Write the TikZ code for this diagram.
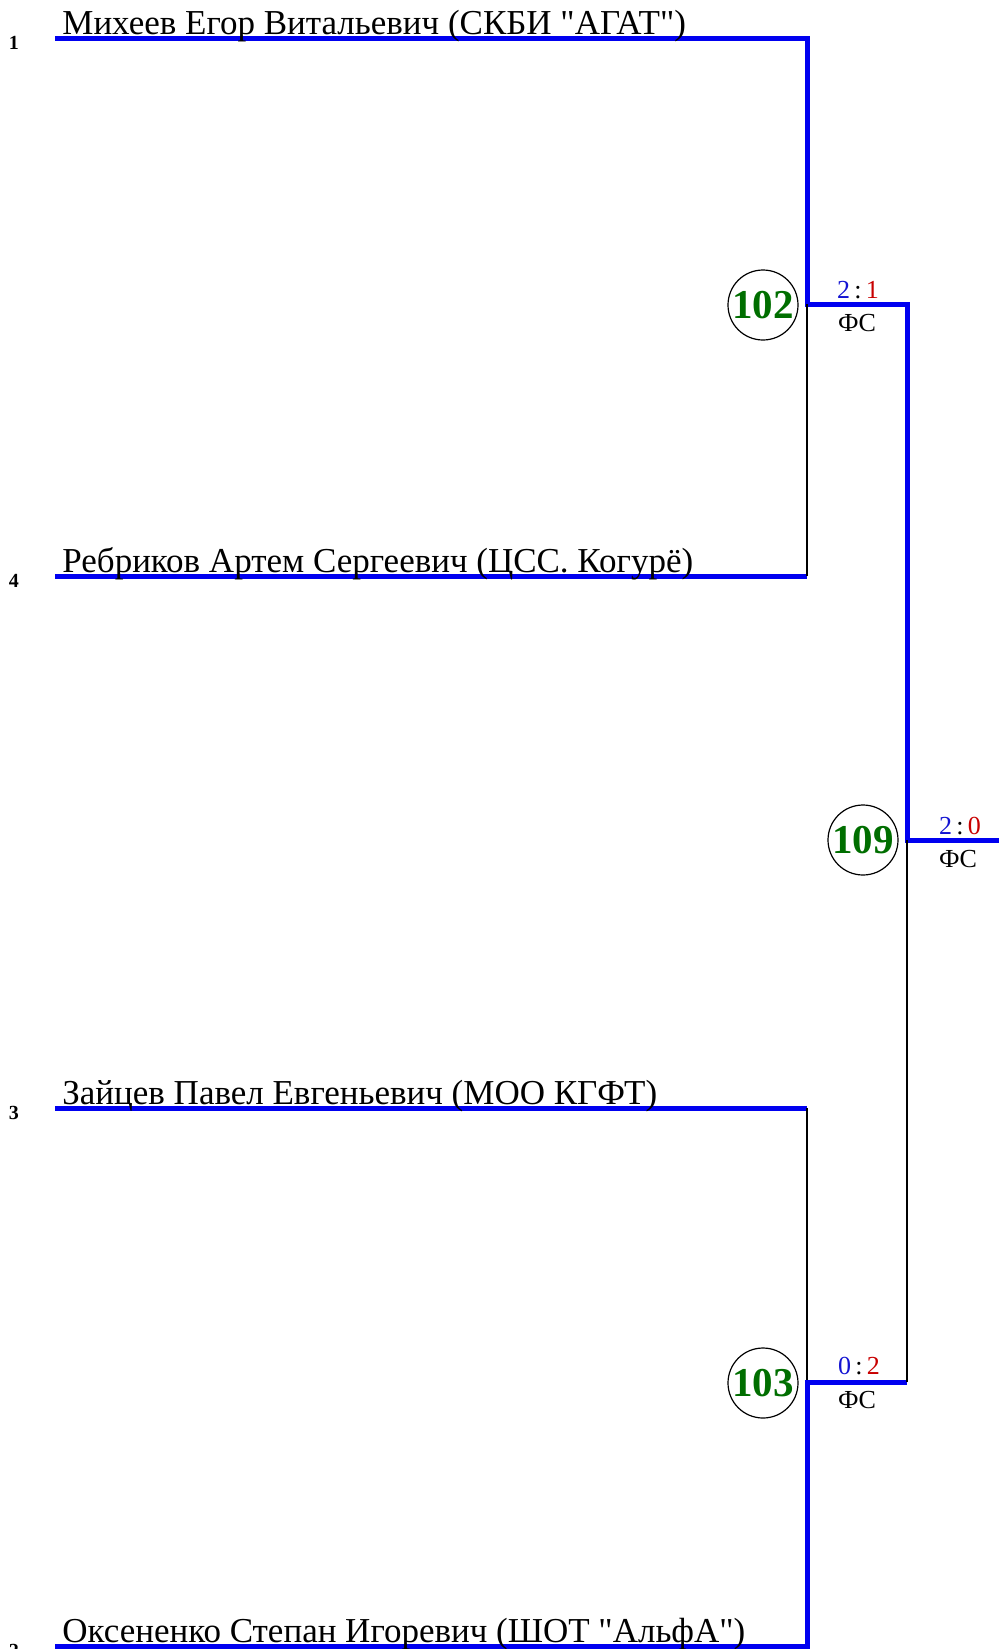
\documentclass[tikz,border=0pt]{standalone}
\usepackage{fontspec}
\setmainfont{Liberation Serif}
\definecolor{winblue}{RGB}{0,0,240}
\definecolor{bestgreen}{RGB}{0,110,0}
\definecolor{ptblue}{RGB}{20,20,210}
\definecolor{ptred}{RGB}{200,0,0}
\newcommand{\pts}[2]{\textcolor{ptblue}{#1}\,:\,\textcolor{ptred}{#2}}
\begin{document}
\begin{tikzpicture}[x=0.5pt,y=-0.5pt,
  win/.style={draw=winblue,line width=2.5pt},
  lose/.style={draw=black,line width=0.7pt},
  fighter/.style={anchor=base west,inner sep=0pt,font=\fontsize{17.5}{17.5}\selectfont},
  seed/.style={inner sep=0pt,font=\fontsize{10}{10}\selectfont\bfseries},
  bout/.style={circle,draw,line width=0.6pt,minimum size=35pt,inner sep=0pt,
    text=bestgreen,font=\fontsize{20.5}{20.5}\selectfont\bfseries},
  score/.style={inner sep=0pt,font=\fontsize{13}{13}\selectfont}]
\useasboundingbox (0,0) rectangle (999,1649);

% line ends
\coordinate (s1) at (55,38);   \coordinate (e1) at (807,38);
\coordinate (s4) at (55,576);  \coordinate (e4) at (807,576);
\coordinate (s3) at (55,1108); \coordinate (e3) at (807,1108);
\coordinate (s2) at (55,1646); \coordinate (e2) at (807,1646);
\coordinate (b102) at (807,304);  \coordinate (c102) at (907,304);
\coordinate (b103) at (807,1382); \coordinate (c103) at (907,1382);
\coordinate (b109) at (907,840);  \coordinate (c109) at (999,840);

% bracket
\draw[win] (s1) -- (e1) -- (b102) -- (c102) -- (b109) -- (c109);
\draw[win] (s4) -- (e4);  \draw[lose] (e4) -- (b102);
\draw[win] (s3) -- (e3);  \draw[lose] (e3) -- (b103);
\draw[win] (s2) -- (e2) -- (b103) -- (c103);
\draw[lose] (c103) -- (b109);

% fighters
\node[seed] (r1) at (14,43) {1};
\node[fighter] (f1) at (62,34) {Михеев Егор Витальевич (СКБИ \textquotedbl АГАТ\textquotedbl)};
\node[seed] (r4) at (14,581) {4};
\node[fighter] (f4) at (62,572) {Ребриков Артем Сергеевич (ЦСС. Когурё)};
\node[seed] (r3) at (14,1113) {3};
\node[fighter] (f3) at (62,1104) {Зайцев Павел Евгеньевич (МОО КГФТ)};
\node[seed] (r2) at (14,1651) {2};
\node[fighter] (f2) at (62,1642) {Оксененко Степан Игоревич (ШОТ \textquotedbl АльфА\textquotedbl)};

% bouts
\node[bout] (m102) at (763,305) {102};
\node[score,anchor=base] (sc102) at (858,298) {\pts{2}{1}};
\node[score,anchor=north] (fs102) at (857,314) {ФС};
\node[bout] (m109) at (863,840) {109};
\node[score,anchor=base] (sc109) at (960,834) {\pts{2}{0}};
\node[score,anchor=north] (fs109) at (958,850) {ФС};
\node[bout] (m103) at (763,1383) {103};
\node[score,anchor=base] (sc103) at (859,1374) {\pts{0}{2}};
\node[score,anchor=north] (fs103) at (857,1391) {ФС};
\end{tikzpicture}
\end{document}
